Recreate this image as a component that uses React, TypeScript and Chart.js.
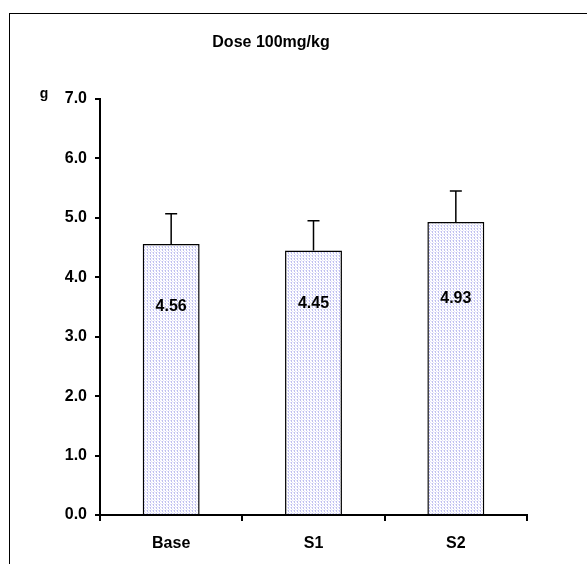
import React, { useEffect, useRef } from "react";
import { Chart, registerables } from "chart.js";

Chart.register(...registerables);

const categories = ["Base", "S1", "S2"];
const means = [4.56, 4.45, 4.93];
const errors = [0.51, 0.5, 0.52];
const valueLabels = ["4.56", "4.45", "4.93"];
const labelLevels = [3.5, 3.55, 3.64];
const yTicks = [0, 1, 2, 3, 4, 5, 6, 7];
const title = "Dose 100mg/kg";
const yUnit = "g";

function makePattern(): CanvasPattern | string {
  const c = document.createElement("canvas");
  c.width = 3;
  c.height = 3;
  const ctx = c.getContext("2d");
  if (!ctx) return "#ececfa";
  ctx.fillStyle = "#ffffff";
  ctx.fillRect(0, 0, 3, 3);
  ctx.fillStyle = "#c0c0f0";
  ctx.fillRect(0, 0, 1, 1);
  ctx.fillRect(0, 1, 1, 1);
  ctx.fillStyle = "#e2e2f8";
  ctx.fillRect(1, 2, 1, 1);
  ctx.fillRect(2, 0, 1, 1);
  const p = ctx.createPattern(c, "repeat");
  return p || "#ececfa";
}

export default function App() {
  const ref = useRef<HTMLCanvasElement | null>(null);

  useEffect(() => {
    document.body.style.margin = "0";
    const canvas = ref.current;
    if (!canvas) return;
    const font = "'Liberation Sans', Arial, sans-serif";

    const overlay = {
      id: "overlay",
      afterDatasetsDraw(chart: any) {
        const ctx = chart.ctx;
        const meta = chart.getDatasetMeta(0);
        const y = chart.scales.y;
        ctx.save();
        ctx.strokeStyle = "#000";
        ctx.lineWidth = 1.5;
        meta.data.forEach((bar: any, i: number) => {
          const x = bar.x;
          const top = y.getPixelForValue(means[i]);
          const eTop = y.getPixelForValue(means[i] + errors[i]);
          ctx.beginPath();
          ctx.moveTo(x, top);
          ctx.lineTo(x, eTop);
          ctx.moveTo(x - 6, eTop);
          ctx.lineTo(x + 6, eTop);
          ctx.stroke();
          ctx.fillStyle = "#000";
          ctx.font = `bold 16px ${font}`;
          ctx.textAlign = "center";
          ctx.textBaseline = "middle";
          ctx.fillText(valueLabels[i], x, y.getPixelForValue(labelLevels[i]));
        });
        ctx.restore();
      },
      afterDraw(chart: any) {
        const ctx = chart.ctx;
        ctx.save();
        ctx.fillStyle = "#000";
        ctx.font = `bold 16px ${font}`;
        ctx.textAlign = "center";
        ctx.textBaseline = "middle";
        ctx.fillText(title, 271, 43);
        ctx.font = `bold 14px ${font}`;
        ctx.fillText(yUnit, 44, 94);
        ctx.restore();
      },
    };

    const chart = new Chart(canvas, {
      type: "bar",
      data: {
        labels: categories,
        datasets: [
          {
            data: means,
            backgroundColor: makePattern() as any,
            borderColor: "#000",
            borderWidth: 1.5,
            borderSkipped: "bottom",
            barPercentage: 0.4,
            categoryPercentage: 1,
          },
        ],
      },
      options: {
        animation: false,
        responsive: false,
        maintainAspectRatio: false,
        layout: { padding: { left: 0, top: 99, right: 60, bottom: 0 } },
        plugins: {
          legend: { display: false },
          tooltip: { enabled: false },
          title: { display: false },
        },
        scales: {
          x: {
            offset: true,
            grid: {
              offset: true,
              drawOnChartArea: false,
              drawTicks: true,
              tickLength: 6,
              color: "#000",
              lineWidth: 2,
            },
            border: { display: true, color: "#000", width: 2 },
            ticks: {
              color: "#000",
              font: { family: font, size: 16, weight: "bold" },
              padding: 13,
            },
            afterFit(scale: any) {
              scale.height = 49;
            },
          },
          y: {
            min: 0,
            max: 7,
            afterBuildTicks(scale: any) {
              scale.ticks = yTicks.map((v) => ({ value: v }));
            },
            grid: {
              drawOnChartArea: false,
              drawTicks: true,
              tickLength: 5,
              color: "#000",
              lineWidth: 2,
            },
            border: { display: true, color: "#000", width: 2 },
            ticks: {
              color: "#000",
              font: { family: font, size: 16, weight: "bold" },
              padding: 8,
              callback: (v: any) => Number(v).toFixed(1),
            },
            afterFit(scale: any) {
              scale.width = 100;
            },
          },
        },
      },
      plugins: [overlay],
    });
    return () => chart.destroy();
  }, []);

  return (
    <div style={{ position: "relative", width: 587, height: 564, overflow: "hidden", background: "#fff" }}>
      <div
        style={{
          position: "absolute",
          left: 9,
          top: 13,
          width: 620,
          height: 620,
          border: "1px solid #000",
          boxSizing: "border-box",
        }}
      />
      <canvas
        ref={ref}
        width={587}
        height={564}
        style={{ position: "absolute", left: 0, top: 0, width: 587, height: 564 }}
      />
    </div>
  );
}
